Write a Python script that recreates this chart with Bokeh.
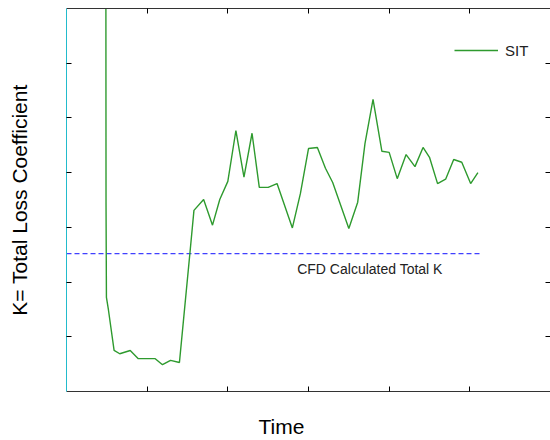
from bokeh.plotting import figure
from bokeh.models import (Range1d, LinearAxis, FixedTicker, Label, Legend, LegendItem,
                          CustomJSTickFormatter, Title)
from bokeh.embed import file_html
from bokeh.resources import INLINE

# ---- data ----
time = [0.488, 0.49, 0.495, 0.52, 0.59, 0.66, 0.79, 0.89, 1.10, 1.19, 1.29, 1.40,
        1.45, 1.53, 1.58, 1.70, 1.81, 1.90, 2.00, 2.10, 2.20, 2.30, 2.39, 2.50,
        2.61, 2.80, 2.90, 3.00, 3.11, 3.21, 3.30, 3.50, 3.61, 3.70, 3.80, 3.91,
        4.00, 4.10, 4.21, 4.32, 4.42, 4.50, 4.60, 4.70, 4.80, 4.90, 5.01, 5.10]
sit_k = [8.0, 3.45, 1.72, 1.49, 0.75, 0.69, 0.75, 0.60, 0.60, 0.49, 0.57, 0.53,
         1.30, 2.53, 3.31, 3.51, 3.04, 3.51, 3.84, 4.77, 3.92, 4.72, 3.73, 3.73,
         3.80, 2.99, 3.62, 4.44, 4.46, 4.08, 3.82, 2.98, 3.46, 4.53, 5.34, 4.39,
         4.37, 3.89, 4.33, 4.11, 4.46, 4.28, 3.80, 3.88, 4.24, 4.19, 3.80, 4.00]
cfd_time = [0.0, 5.12]
cfd_k_value = 2.52
x_ticks = [1, 2, 3, 4, 5]
y_ticks = [1, 2, 3, 4, 5, 6]
series_name = "SIT"
cfd_label = "CFD Calculated Total K"
x_title = "Time"
y_title = "K= Total Loss Coefficient"

FONT = "Liberation Sans"

p = figure(width=550, height=440, output_backend="svg", toolbar_location=None,
           x_range=Range1d(0, 6), y_range=Range1d(0, 7),
           x_axis_location=None, y_axis_location=None,
           min_border_left=66, min_border_right=0, min_border_top=8,
           min_border_bottom=49)
p.outline_line_color = None
p.xgrid.visible = False
p.ygrid.visible = False
p.background_fill_color = "white"
p.border_fill_color = "white"

blank = CustomJSTickFormatter(code="return ''")


def style_axis(ax, ticks, line_color="black", line_alpha=1.0):
    ax.ticker = FixedTicker(ticks=ticks)
    ax.formatter = blank
    ax.major_tick_in = 5
    ax.major_tick_out = 0
    ax.minor_tick_line_color = None
    ax.major_label_standoff = 0
    ax.axis_line_color = line_color
    ax.axis_line_alpha = line_alpha
    ax.major_tick_line_color = "black"
    ax.axis_line_width = 1


left = LinearAxis()
style_axis(left, y_ticks, line_color="#22bbcc")
left.axis_label = y_title
left.axis_label_text_font = FONT
left.axis_label_text_font_size = "21px"
left.axis_label_text_font_style = "normal"
left.axis_label_text_color = "black"
left.axis_label_standoff = 36
p.add_layout(left, "left")

right = LinearAxis()
style_axis(right, y_ticks, line_alpha=0.0)
p.add_layout(right, "right")

below = LinearAxis()
style_axis(below, x_ticks, line_color="#333333")
p.add_layout(below, "below")

above = LinearAxis()
style_axis(above, x_ticks, line_color="#333333")
p.add_layout(above, "above")

# invisible spacer below the x axis, pushing the x title down
spacer = LinearAxis()
style_axis(spacer, x_ticks, line_alpha=0.0)
spacer.major_tick_in = 0
spacer.major_tick_out = 19
spacer.major_tick_line_alpha = 0.0
p.add_layout(spacer, "below")

# x-axis title, shifted left of the frame centre as in the reference
p.add_layout(Title(text=x_title, align="left", offset=192, standoff=4,
                   text_font=FONT, text_font_size="21px", text_font_style="normal",
                   text_color="black"), "below")

# CFD reference line
p.line(cfd_time, [cfd_k_value] * len(cfd_time), line_color="#4040ff",
       line_width=1.2, line_dash="5 3")
p.add_layout(Label(x=2.86, y=2.23, text=cfd_label, text_font=FONT,
                   text_font_size="14px", text_color="#222222",
                   text_baseline="alphabetic", text_align="left"))

# SIT series
r = p.line(time, sit_k, line_color="#2e9a2e", line_width=1.4)

legend = Legend(items=[LegendItem(label=series_name, renderers=[r])],
                location=(388, 331), glyph_width=44, glyph_height=20,
                label_standoff=7, padding=0, margin=0, spacing=0,
                border_line_color=None, background_fill_alpha=0,
                label_text_font=FONT, label_text_font_size="15px",
                label_text_color="#222222")
p.add_layout(legend)

open("out.html", "w").write(file_html(p, INLINE))
